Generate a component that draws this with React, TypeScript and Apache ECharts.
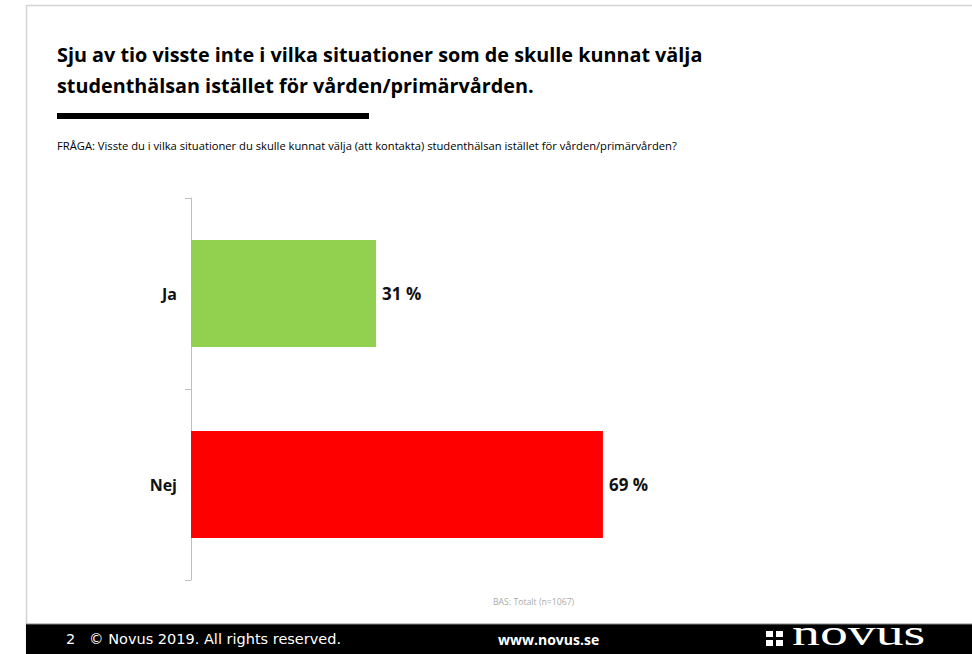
import React, { useEffect, useRef } from "react";
import * as echarts from "echarts";

const categories = ["Ja", "Nej"];
const values = [31, 69];
const barColors = ["#92D050", "#FF0000"];
const titleLines = [
  "Sju av tio visste inte i vilka situationer som de skulle kunnat välja",
  "studenthälsan istället för vården/primärvården.",
];
const questionText =
  "FRÅGA: Visste du i vilka situationer du skulle kunnat välja (att kontakta) studenthälsan istället för vården/primärvården?";
const baseText = "BAS: Totalt (n=1067)";
const footerLeft = "2   © Novus 2019. All rights reserved.";
const footerMid = "www.novus.se";
const logoText = "novus";

export default function App() {
  const ref = useRef<HTMLDivElement>(null);
  useEffect(() => {
    if (!ref.current) return;
    const chart = echarts.init(ref.current, undefined, { renderer: "svg" });
    const font = "'Open Sans', 'Noto Sans', sans-serif";
    chart.setOption({
      animation: false,
      backgroundColor: "#ffffff",
      grid: { left: 191, top: 198, width: 597, height: 382, containLabel: false },
      xAxis: { type: "value", min: 0, max: 100, show: false },
      yAxis: {
        type: "category",
        data: categories,
        inverse: true,
        axisLine: { show: true, lineStyle: { color: "#bfbfbf", width: 1 } },
        axisTick: { show: true, length: 6, lineStyle: { color: "#bfbfbf" } },
        axisLabel: {
          margin: 14,
          color: "#111",
          fontWeight: "bold",
          fontSize: 16,
          fontFamily: font,
        },
      },
      series: [
        {
          type: "bar",
          data: values.map((v, i) => ({ value: v, itemStyle: { color: barColors[i] } })),
          barCategoryGap: "44%",
          label: {
            show: true,
            position: "right",
            distance: 6,
            formatter: "{c} %",
            color: "#111",
            fontWeight: "bold",
            fontSize: 17,
            fontFamily: font,
          },
        },
      ],
      graphic: [
        { type: "line", shape: { x1: 26, y1: 5.5, x2: 972, y2: 5.5 }, style: { stroke: "#d4d4d4", lineWidth: 1.5 } },
        { type: "line", shape: { x1: 26.5, y1: 5, x2: 26.5, y2: 654 }, style: { stroke: "#d4d4d4", lineWidth: 1.5 } },
        {
          type: "text",
          left: 57,
          top: 39,
          style: {
            text: titleLines.join("\n"),
            font: `bold 19.8px ${font}`,
            lineHeight: 31,
            fill: "#000",
          },
        },
        { type: "rect", shape: { x: 57, y: 113, width: 312, height: 6 }, style: { fill: "#000" } },
        {
          type: "text",
          left: 57,
          top: 140,
          style: { text: questionText, font: `11.2px ${font}`, fill: "#000" },
        },
        {
          type: "text",
          left: 493,
          top: 597,
          style: { text: baseText, font: `8.7px ${font}`, fill: "#aaaaaa" },
        },
        { type: "rect", shape: { x: 26, y: 624, width: 946, height: 30 }, style: { fill: "#000" } },
        { type: "line", shape: { x1: 26, y1: 624, x2: 972, y2: 624 }, style: { stroke: "#888", lineWidth: 1 } },
        {
          type: "text",
          left: 66,
          top: 631,
          style: { text: footerLeft, font: `14.5px 'DejaVu Sans', sans-serif`, fill: "#fff" },
        },
        {
          type: "text",
          left: 498,
          top: 632,
          style: { text: footerMid, font: `bold 14px ${font}`, fill: "#fff" },
        },
        { type: "rect", shape: { x: 766, y: 631, width: 7, height: 6 }, style: { fill: "#fff" } },
        { type: "rect", shape: { x: 776, y: 631, width: 7, height: 6 }, style: { fill: "#fff" } },
        { type: "rect", shape: { x: 766, y: 640, width: 7, height: 6 }, style: { fill: "#fff" } },
        { type: "rect", shape: { x: 776, y: 640, width: 7, height: 6 }, style: { fill: "#fff" } },
        {
          type: "text",
          x: 792,
          y: 651,
          scaleX: 1.55,
          style: {
            text: logoText,
            font: `36px 'Liberation Serif', 'DejaVu Serif', serif`,
            fill: "#fff",
            verticalAlign: "bottom",
            lineHeight: 36,
          },
        },
      ],
    });
    return () => chart.dispose();
  }, []);
  return (
    <div
      ref={ref}
      style={{ position: "fixed", left: 0, top: 0, width: 972, height: 654 }}
    />
  );
}
